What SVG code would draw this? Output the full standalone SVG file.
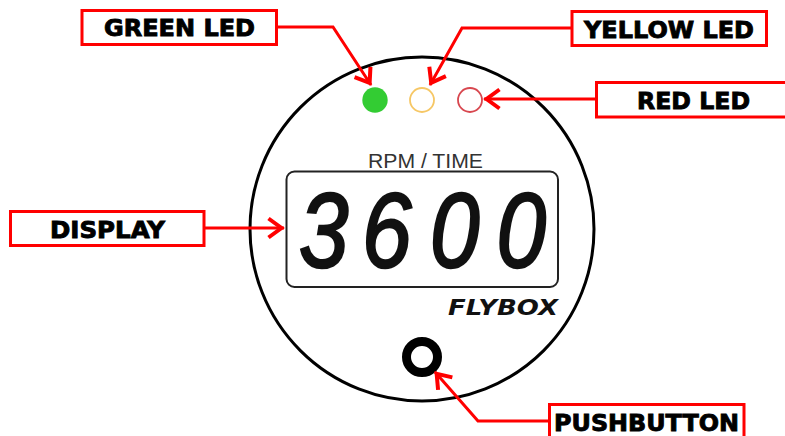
<svg xmlns="http://www.w3.org/2000/svg" width="785" height="436" viewBox="0 0 785 436">
<style>
.box{fill:#fff;stroke:#f00;stroke-width:3}
.lbl{font-family:"DejaVu Sans",sans-serif;font-weight:700;font-size:23.5px;fill:#000;stroke:#000;stroke-width:.9}
.con{fill:none;stroke:#f00;stroke-width:3;stroke-linejoin:miter;marker-end:url(#a)}
.dig{font-family:"Liberation Sans",sans-serif;font-size:106px;font-style:italic;fill:#111;stroke:#111;stroke-width:2.500}
</style>
<defs><marker id="a" markerUnits="userSpaceOnUse" viewBox="-20 -13 22 26" refX="0" refY="0" markerWidth="22" markerHeight="26" orient="auto"><path d="M-15.500-9.500L-2.500 0L-15.500 9.500" fill="none" stroke="#f00" stroke-width="4"/></marker></defs>
<rect width="785" height="436" fill="#fff"/>
<g id="device">
<circle cx="422" cy="229" r="172" fill="#fff" stroke="#000" stroke-width="3"/>
<text x="425.500" y="168" text-anchor="middle" font-family="Liberation Sans,sans-serif" font-size="20" fill="#333" textLength="115" lengthAdjust="spacingAndGlyphs">RPM / TIME</text>
<rect x="286.500" y="171.500" width="271.500" height="115.500" rx="8" fill="#fff" stroke="#222" stroke-width="2"/>
<g id="readout"><text class="dig" transform="translate(299 267) scale(.84 1)" x="0 75 156 235" y="0">3600</text></g>
<text x="448" y="315" font-family="DejaVu Sans,sans-serif" font-weight="700" font-style="italic" font-size="22" fill="#111" textLength="110" lengthAdjust="spacingAndGlyphs">FLYBOX</text>
</g>
<g id="green-led"><circle cx="375" cy="100" r="12.700" fill="#33cc33"/></g>
<g id="yellow-led"><circle cx="422" cy="100" r="12" fill="#fff" stroke="#f6c765" stroke-width="1.800"/></g>
<g id="red-led"><circle cx="470" cy="100" r="12" fill="#fff" stroke="#d8474f" stroke-width="1.800"/></g>
<g id="pushbutton"><circle cx="422" cy="357" r="15.500" fill="#fff" stroke="#000" stroke-width="9"/></g>
<g id="connectors">
<path class="con" d="M277 27H333L371 85"/>
<path class="con" d="M572 28H462L430 85"/>
<path class="con" d="M596 99H484"/>
<path class="con" d="M204 228H284"/>
<path class="con" d="M549 421H478L435 372"/>
</g>
<g id="label-green"><rect class="box" x="82" y="10.500" width="194.500" height="34"/><text class="lbl" x="104" y="36" textLength="151" lengthAdjust="spacingAndGlyphs">GREEN LED</text></g>
<g id="label-yellow"><rect class="box" x="572" y="11.500" width="194.500" height="34"/><text class="lbl" x="584" y="37.500" textLength="170" lengthAdjust="spacingAndGlyphs">YELLOW LED</text></g>
<g id="label-red"><rect class="box" x="596.500" y="82.500" width="200" height="34.500"/><text class="lbl" x="637" y="109" textLength="113" lengthAdjust="spacingAndGlyphs">RED LED</text></g>
<g id="label-display"><rect class="box" x="10.500" y="211.500" width="193.500" height="34"/><text class="lbl" x="50" y="238" textLength="115" lengthAdjust="spacingAndGlyphs">DISPLAY</text></g>
<g id="label-pushbutton"><rect class="box" x="549.500" y="404.500" width="194.500" height="40"/><text class="lbl" x="554" y="431" textLength="185" lengthAdjust="spacingAndGlyphs">PUSHBUTTON</text></g>
</svg>
